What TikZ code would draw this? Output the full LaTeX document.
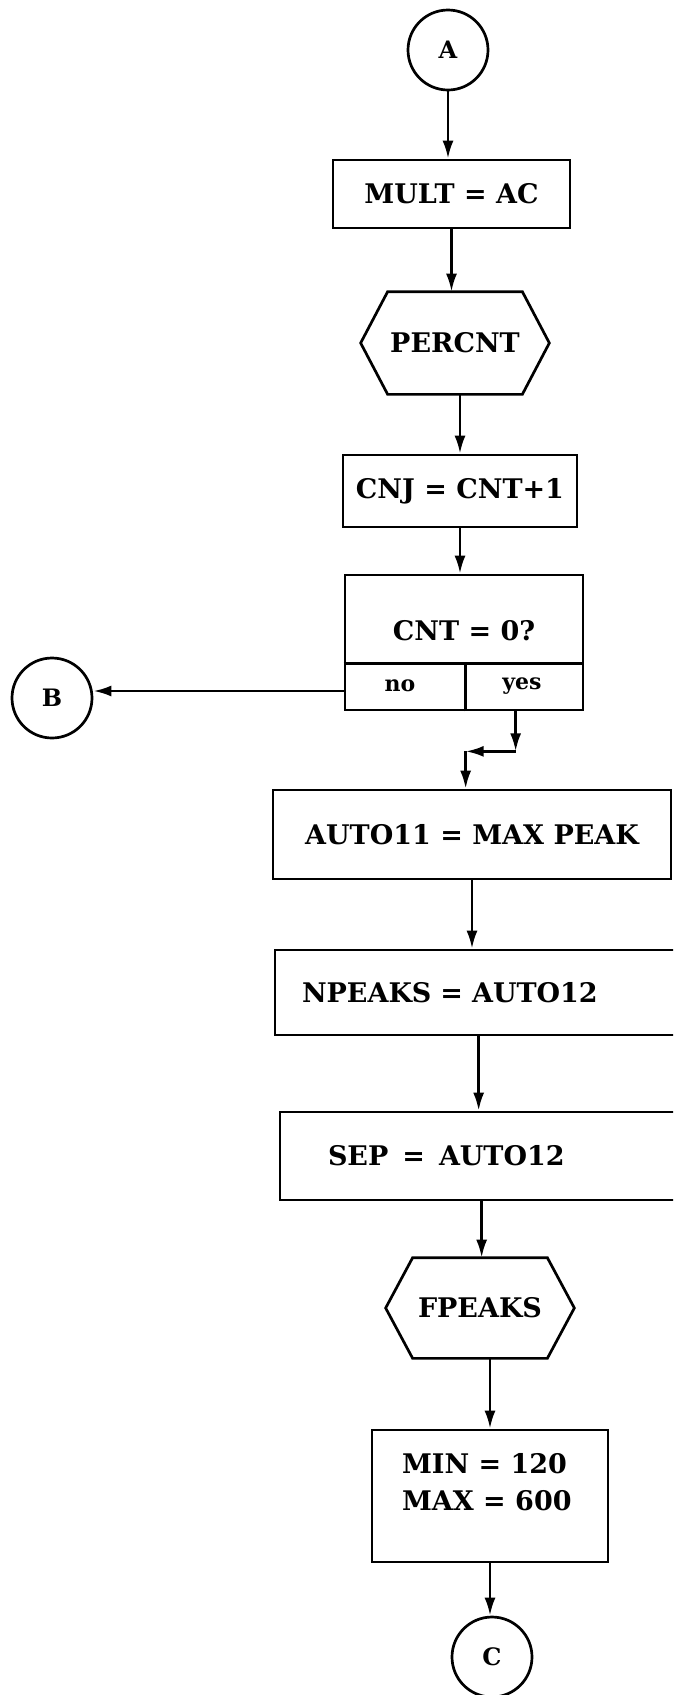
\documentclass[tikz,border=0pt]{standalone}
\usepackage{fontspec}
\setmainfont{DejaVu Serif}
\usetikzlibrary{calc,arrows.meta}
\newcommand\flowfont{\fontsize{27}{37}\selectfont\bfseries}
\newcommand\cellfont{\fontsize{22}{26}\selectfont\bfseries}
\newcommand\connfont{\fontsize{24}{28}\selectfont\bfseries}
\begin{document}
\begin{tikzpicture}[x=1pt,y=-1pt,line width=2.7pt,
  box/.style={draw,rectangle,inner sep=0pt,font=\flowfont},
  hexa/.style={rectangle,inner sep=0pt,font=\flowfont},
  conn/.style={draw,circle,minimum size=80pt,inner sep=0pt,font=\connfont},
  txt/.style={inner sep=0pt,font=\flowfont},
  cell/.style={inner sep=0pt,font=\cellfont},
  arr/.style={-{Latex[length=18pt,width=11pt]}}]
\useasboundingbox (0,0) rectangle (673,1695);
\clip (0,0) rectangle (673,1695);
% nodes
\node[conn] (A) at (448,50) {A};
\node[box,minimum width=237pt,minimum height=68pt] (mult) at (451.5,194) {MULT = AC};
\node[hexa,minimum width=186pt,minimum height=100pt] (percnt) at (455,343) {PERCNT};
\node[box,minimum width=234pt,minimum height=72pt] (cnt) at (460,491) {CNJ = CNT+1};
\node[draw,rectangle,inner sep=0pt,minimum width=238pt,minimum height=135pt] (dec) at (464,642.5) {};
\node[txt] (dectext) at (464,631) {CNT = 0?};
\node[cell] (no) at (400,686) {no};
\node[cell] (yes) at (522,686) {yes};
\node[conn] (B) at (52,698) {B};
\node[box,minimum width=398pt,minimum height=89pt] (auto) at (472,834.5) {AUTO11 = MAX PEAK};
\node[box,minimum width=425pt,minimum height=85pt,text width=371pt,align=left] (npeaks) at (487.5,992.5) {NPEAKS = AUTO12};
\node[box,minimum width=420pt,minimum height=88pt,text width=324pt,align=left] (sep) at (490,1156) {SEP\hspace{14pt}=\hspace{14pt}AUTO12};
\node[hexa,minimum width=186pt,minimum height=98pt] (fpeaks) at (480,1308) {FPEAKS};
\node[draw,rectangle,inner sep=0pt,minimum width=236pt,minimum height=132pt] (min) at (490,1496) {};
\node[txt,anchor=north west,align=left] (mintext) at ($(min.north west)+(30,23)$) {MIN = 120\\MAX = 600};
\node[conn] (C) at (492,1657) {C};
% hexagons
\foreach \n in {percnt,fpeaks}
  \draw (\n.west) -- ($(\n.north west)+(27,0)$) -- ($(\n.north east)+(-27,0)$) -- (\n.east)
        -- ($(\n.south east)+(-27,0)$) -- ($(\n.south west)+(27,0)$) -- cycle;
% decision cells
\draw ($(dec.south west)+(0,-48)$) -- ($(dec.south east)+(0,-48)$);
\draw ($(dec.south west)+(122,0)$) -- ($(dec.south west)+(122,-48)$);
% connectors
\draw[arr] (A.south) -- (A.south |- mult.north);
\draw[arr] (mult.south) -- (mult.south |- percnt.north);
\draw[arr] (cnt.north |- percnt.south) -- (cnt.north);
\draw[arr] (cnt.south) -- (cnt.south |- dec.north);
\coordinate (noexit) at ($(dec.west |- no)+(0,5)$);
\draw[arr] (noexit) -- (noexit -| B.east);
\coordinate (y1) at ($(dec.south west)+(172,40)$);
\coordinate (y2) at ($(dec.south west)+(122,40)$);
\draw[arr] (dec.south -| y1) -- (y1);
\draw[arr] (y1) -- (y2);
\draw[arr] (y2) -- (y2 |- auto.north);
\draw[arr] (auto.south) -- (auto.south |- npeaks.north);
\coordinate (nsx) at ($(npeaks.south west)+(205,0)$);
\draw[arr] (nsx) -- (nsx |- sep.north);
\coordinate (ssx) at ($(sep.south west)+(203,0)$);
\draw[arr] (ssx) -- (ssx |- fpeaks.north);
\draw[arr] (fpeaks.south -| min.north) -- (min.north);
\draw[arr] (min.south) -- (min.south |- C.north);
\end{tikzpicture}
\end{document}
